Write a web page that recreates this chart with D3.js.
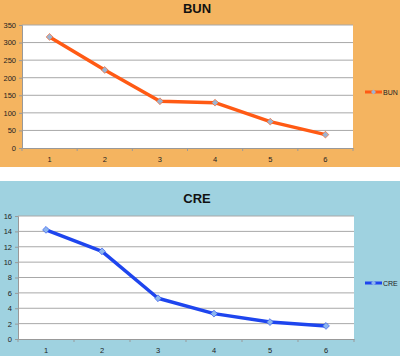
<!DOCTYPE html>
<html><head><meta charset="utf-8">
<script src="https://cdn.jsdelivr.net/npm/d3@7"></script>
<style>body{margin:0;background:#fff}svg{display:block}</style>
</head><body>
<svg id="c" width="400" height="356"></svg>
<script>
const categories = ["1","2","3","4","5","6"];
const bunValues = [316, 222, 133, 129, 75, 38];
const creValues = [14.2, 11.4, 5.3, 3.3, 2.2, 1.7];
const bunTicks = [0,50,100,150,200,250,300,350];
const creTicks = [0,2,4,6,8,10,12,14,16];

const svg = d3.select("#c");

function panel(cfg){
  const g = svg.append("g");
  g.append("rect").attr("x",0).attr("y",cfg.py0).attr("width",400).attr("height",cfg.py1-cfg.py0).attr("fill",cfg.bg);
  g.append("text").attr("x",197).attr("y",cfg.titleY).attr("text-anchor","middle")
    .attr("font-family","Liberation Sans, Arial, sans-serif").attr("font-weight","bold").attr("font-size",13)
    .attr("fill","#111").text(cfg.title);
  const x = d3.scaleBand().domain(categories).range([cfg.left, cfg.right]);
  const y = d3.scaleLinear().domain([0, cfg.max]).range([cfg.bottom, cfg.top]);
  g.append("rect").attr("x",cfg.left).attr("y",cfg.top).attr("width",cfg.right-cfg.left).attr("height",cfg.bottom-cfg.top).attr("fill","#fff");
  // grid
  g.append("g").selectAll("line").data(cfg.ticks.slice(1)).join("line")
    .attr("x1",cfg.left).attr("x2",cfg.right).attr("y1",d=>y(d)).attr("y2",d=>y(d))
    .attr("stroke","#a8a8a8").attr("stroke-width",1);
  // y axis
  const ya = g.append("g").attr("transform",`translate(${cfg.left},0)`)
    .call(d3.axisLeft(y).tickValues(cfg.ticks).tickSize(3).tickPadding(3));
  ya.select(".domain").attr("stroke","#999");
  ya.selectAll(".tick line").attr("stroke","#999");
  ya.selectAll("text").attr("font-family","Liberation Sans, Arial, sans-serif").attr("font-size",7.5).attr("fill","#222");
  // x axis
  const xa = g.append("g").attr("transform",`translate(0,${cfg.bottom})`)
    .call(d3.axisBottom(x).tickSize(0).tickPadding(9));
  xa.select(".domain").attr("stroke","#999");
  xa.selectAll("text").attr("font-family","Liberation Sans, Arial, sans-serif").attr("font-size",7.5).attr("fill","#222");
  g.append("g").selectAll("line").data(categories.concat(["end"])).join("line")
    .attr("x1",(d,i)=>cfg.left+i*x.bandwidth()).attr("x2",(d,i)=>cfg.left+i*x.bandwidth())
    .attr("y1",cfg.bottom).attr("y2",cfg.bottom+3).attr("stroke","#999");
  // line
  const line = d3.line().x((d,i)=>x(categories[i])+x.bandwidth()/2).y(d=>y(d));
  g.append("path").datum(cfg.values).attr("d",line).attr("fill","none")
    .attr("stroke",cfg.color).attr("stroke-width",3.5).attr("stroke-linejoin","round");
  const sym = d3.symbol().type(d3.symbolDiamond2).size(30);
  g.append("g").selectAll("path").data(cfg.values).join("path")
    .attr("d",sym).attr("transform",(d,i)=>`translate(${x(categories[i])+x.bandwidth()/2},${y(d)})`)
    .attr("fill",cfg.marker).attr("stroke",cfg.color).attr("stroke-width",0.6);
  // legend
  g.append("line").attr("x1",365).attr("x2",382).attr("y1",cfg.legY).attr("y2",cfg.legY)
    .attr("stroke",cfg.color).attr("stroke-width",3);
  g.append("path").attr("d",d3.symbol().type(d3.symbolDiamond2).size(16))
    .attr("transform",`translate(373.5,${cfg.legY})`).attr("fill",cfg.marker);
  g.append("text").attr("x",383).attr("y",cfg.legY+2.5).attr("font-family","Liberation Sans, Arial, sans-serif")
    .attr("font-size",7).attr("fill","#222").text(cfg.title);
}

panel({py0:0, py1:167, bg:"#F4B460", title:"BUN", titleY:13, left:22, right:353, top:25, bottom:148,
  max:350, ticks:bunTicks, values:bunValues, color:"#FF5A14", marker:"#9DB4D0", legY:92});
panel({py0:181, py1:356, bg:"#9FD2E0", title:"CRE", titleY:203, left:18, right:354, top:216, bottom:339,
  max:16, ticks:creTicks, values:creValues, color:"#1E45EE", marker:"#8DB6EE", legY:283});
</script>
</body></html>
